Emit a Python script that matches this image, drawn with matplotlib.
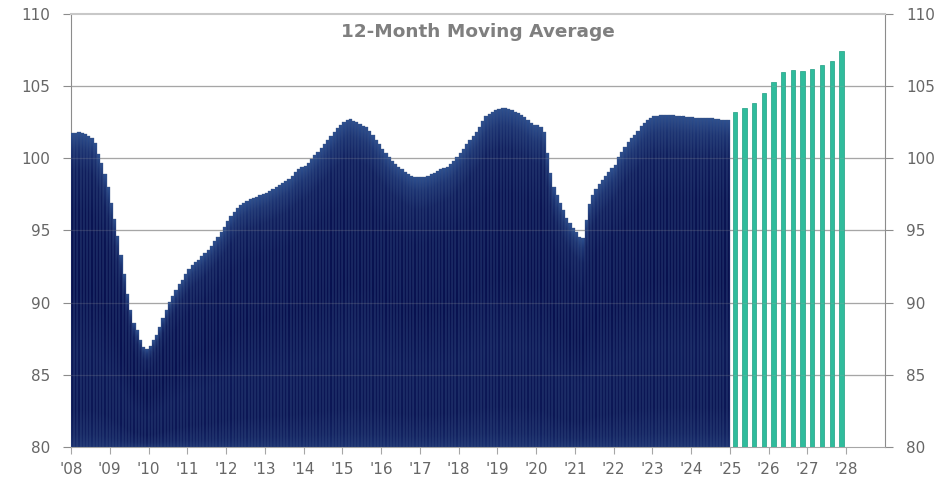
import numpy as np
import matplotlib
matplotlib.use('Agg')
import matplotlib.pyplot as plt
from matplotlib.path import Path

plt.rcParams['font.family'] = ['DejaVu Sans']

# 12-month moving average, monthly, Jan 2008 .. Dec 2024
hist_start = 2008
hist_vals = [
    101.74, 101.74, 101.80, 101.74, 101.67, 101.55, 101.44, 101.04, 100.30, 99.70, 98.90, 97.99,   # 2008
    96.90, 95.80, 94.60, 93.30, 91.97, 90.60, 89.50, 88.60, 88.08, 87.43, 86.92, 86.80,           # 2009
    86.97, 87.38, 87.73, 88.31, 88.96, 89.50, 90.05, 90.44, 90.86, 91.27, 91.60, 91.97,           # 2010
    92.30, 92.60, 92.82, 92.99, 93.20, 93.45, 93.68, 93.96, 94.28, 94.56, 94.90, 95.25,           # 2011
    95.67, 96.00, 96.30, 96.55, 96.75, 96.90, 97.05, 97.15, 97.25, 97.35, 97.45, 97.55,           # 2012
    97.60, 97.75, 97.90, 98.00, 98.15, 98.30, 98.40, 98.55, 98.77, 99.07, 99.26, 99.37,           # 2013
    99.49, 99.70, 99.95, 100.23, 100.46, 100.74, 101.00, 101.30, 101.55, 101.80, 102.10, 102.30,  # 2014
    102.50, 102.66, 102.70, 102.60, 102.50, 102.36, 102.27, 102.15, 101.90, 101.60, 101.30, 101.00,  # 2015
    100.65, 100.35, 100.07, 99.80, 99.60, 99.42, 99.24, 99.07, 98.90, 98.77, 98.70, 98.68,        # 2016
    98.68, 98.73, 98.80, 98.90, 99.00, 99.12, 99.24, 99.30, 99.42, 99.58, 99.84, 100.07,          # 2017
    100.35, 100.63, 100.97, 101.27, 101.57, 101.85, 102.20, 102.60, 102.90, 103.08, 103.20, 103.33,  # 2018
    103.43, 103.47, 103.47, 103.40, 103.33, 103.24, 103.12, 103.00, 102.85, 102.66, 102.48, 102.30,  # 2019
    102.30, 102.20, 101.80, 100.35, 98.96, 98.03, 97.45, 96.90, 96.40, 95.90, 95.50, 95.14,       # 2020
    94.90, 94.55, 94.50, 95.72, 96.83, 97.45, 97.85, 98.20, 98.50, 98.77, 99.07, 99.30,           # 2021
    99.54, 100.07, 100.46, 100.80, 101.10, 101.44, 101.62, 101.92, 102.25, 102.48, 102.66, 102.80,  # 2022
    102.90, 102.94, 102.97, 102.99, 102.99, 102.99, 102.97, 102.95, 102.93, 102.90, 102.87, 102.85,  # 2023
    102.83, 102.78, 102.78, 102.80, 102.80, 102.80, 102.76, 102.73, 102.71, 102.68, 102.66, 102.64,  # 2024
]

# forecast, quarterly 2025 Q1 .. 2027 Q4
fc_quarters = ['2025Q1', '2025Q2', '2025Q3', '2025Q4', '2026Q1', '2026Q2',
               '2026Q3', '2026Q4', '2027Q1', '2027Q2', '2027Q3', '2027Q4']
fc_vals = [103.18, 103.48, 103.80, 104.50, 105.26, 105.97,
           106.10, 106.04, 106.22, 106.50, 106.75, 107.42]

year_ticks = list(range(2008, 2029))
year_labels = ["'%02d" % (y % 100) for y in year_ticks]
y_ticks = [80, 85, 90, 95, 100, 105, 110]

base = 80
hist_vals = np.array(hist_vals)
hist_x = hist_start + np.arange(len(hist_vals)) / 12
fc_x = np.array([int(q[:4]) + (int(q[-1]) - 1) * 0.25 + 0.125 for q in fc_quarters])

fig = plt.figure(figsize=(9.53, 4.79), dpi=100)
ax = fig.add_axes([71 / 953, 32 / 479, 814 / 953, 433 / 479])

ax.set_xlim(2008, 2029)
ax.set_ylim(80, 110)

# grid (behind the bars, plus a faint copy on top like the original)
for yv in y_ticks[1:-1]:
    ax.axhline(yv, color='#a6a6a6', lw=0.9, zorder=0)
    ax.axhline(yv, color='#a6a6a6', lw=0.9, alpha=0.2, zorder=5)

# history bars: outline only, gradient image clipped to them gives the fill
bars = ax.bar(hist_x, hist_vals - base, bottom=base, width=1 / 12, align='edge',
              facecolor='none', edgecolor='#3a5080', linewidth=0.22, zorder=4)

nsub = 8
nrow = 400
top = hist_vals.max() + 0.5
u = (np.arange(len(hist_vals) * nsub) % nsub + 0.5) / nsub
h = np.repeat(hist_vals, nsub)
v = base + (np.arange(nrow) + 0.5) / nrow * (top - base)
t = np.clip((v[:, None] - base) / (h[None, :] - base), 0, 1)
# vertical shading profile (relative height in bar -> lightness)
prof_t = [0.0, 0.04, 0.12, 0.3, 0.5, 0.75, 0.88, 0.95, 1.0]
prof_a = [0.45, 0.25, 0.08, 0.12, 0.0, 0.05, 0.2, 0.5, 0.9]
a_v = np.interp(t, prof_t, prof_a)
a_h = np.abs(2 * u - 1)[None, :] ** 3 * 0.25
a = np.clip(a_v + a_h * (1 - a_v), 0, 1)
dark = np.array([8, 16, 78]) / 255
light = np.array([50, 88, 152]) / 255
img = dark + (light - dark) * a[..., None]
im = ax.imshow(img, extent=[hist_x[0], hist_x[-1] + 1 / 12, base, top], origin='lower',
               aspect='auto', interpolation='antialiased', zorder=3)
clip = Path.make_compound_path(*[b.get_path().transformed(b.get_patch_transform()) for b in bars])
im.set_clip_path(clip, ax.transData)

# forecast bars
ax.bar(fc_x, np.array(fc_vals) - base, bottom=base, width=0.11, color='#2fbc9c',
       edgecolor='#1f9e83', linewidth=0.5, zorder=3)

# axes styling
for side in ['left', 'right']:
    ax.spines[side].set_color('#8c8c8c')
ax.spines['bottom'].set_color('#a6a6a6')
ax.spines['top'].set_color('#c8c8c8')
ax.spines['top'].set_linewidth(1.5)

ax.set_yticks(y_ticks)
ax.set_yticklabels([str(y) for y in y_ticks])
ax.tick_params(axis='y', left=True, right=True, labelleft=True, labelright=True,
               direction='out', length=6, color='#8c8c8c', labelcolor='#666666',
               labelsize=11, pad=9)
ax.set_xticks(year_ticks)
ax.set_xticklabels(year_labels)
ax.tick_params(axis='x', direction='out', length=5, color='#a6a6a6', labelcolor='#666666',
               labelsize=11, pad=6)

ax.text(0.5, 0.958, '12-Month Moving Average', transform=ax.transAxes, ha='center',
        va='center', fontsize=13.3, fontweight='bold', color='#7f7f7f')

fig.savefig('out.png', dpi=100)
